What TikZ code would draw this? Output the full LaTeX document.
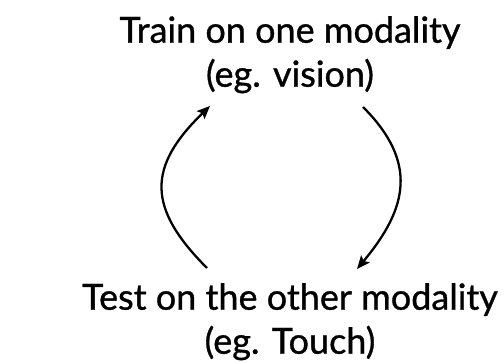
\documentclass[tikz,border=0pt]{standalone}
\usepackage{fontspec}
\setmainfont{Lato}[FakeBold=0.9]
\usetikzlibrary{arrows.meta}
\begin{document}
\begin{tikzpicture}[x=1pt,y=-1pt,
  label/.style={align=center,inner sep=0pt,font=\fontsize{36}{44}\selectfont},
  cyc/.style={line width=2.3pt,-{Stealth[length=13pt,width=11pt,inset=2.5pt]}}]
\useasboundingbox (0,0) rectangle (504,363);
\node[label,anchor=north] (train) at (290,16) {Train on one modality\\(eg. vision)};
\node[label,anchor=north] (test) at (290,283) {Test on the other modality\\(eg. Touch)};
\coordinate (lb) at (207,268);
\coordinate (lt) at (210,106);
\coordinate (rt) at (363,107);
\coordinate (rb) at (357,269);
\draw[cyc] (lb) .. controls (147,208) and (147,167) .. (lt);
\draw[cyc] (rt) .. controls (418,162) and (408,208) .. (rb);
\end{tikzpicture}
\end{document}
